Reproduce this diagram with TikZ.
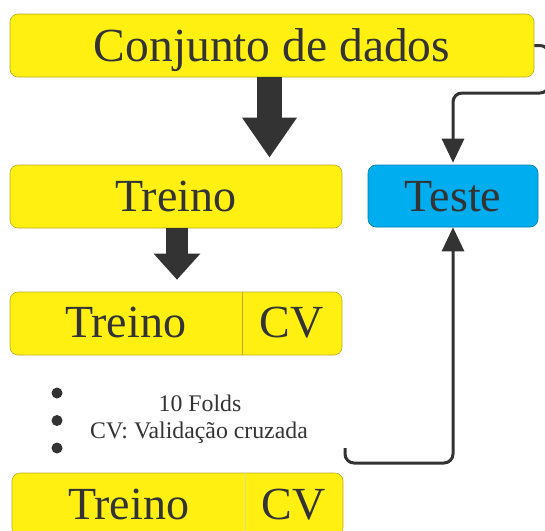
\documentclass[tikz,border=0pt]{standalone}
\usepackage{fontspec}
\setmainfont{Liberation Serif}
\newfontfamily\diagserif{Liberation Serif}
\usetikzlibrary{arrows.meta,calc}
\definecolor{boxyellow}{RGB}{255,240,18}
\definecolor{yellowedge}{RGB}{185,170,40}
\definecolor{boxblue}{RGB}{0,174,239}
\definecolor{blueedge}{RGB}{0,125,175}
\definecolor{ink}{RGB}{51,51,51}
\begin{document}
\begin{tikzpicture}[x=1pt,y=-1pt,
  ybox/.style={draw=yellowedge, line width=0.6pt, fill=boxyellow, rounded corners=8pt, inner sep=0pt},
  bbox/.style={draw=blueedge, line width=0.6pt, fill=boxblue, rounded corners=8pt, inner sep=0pt},
  bigtext/.style={text=ink, font=\diagserif\fontsize{46}{50}\selectfont, text height=30pt, text depth=0pt, inner sep=0pt},
  note/.style={text=ink, font=\diagserif\fontsize{23.8}{26}\selectfont, text height=16pt, text depth=0pt, inner sep=0pt},
  divider/.style={draw=yellowedge, line width=0.6pt},
  blockarrow/.style={draw=ink},
  conn/.style={draw=ink, line width=3pt, rounded corners=9pt, -{Triangle[width=22pt,length=24pt]}},
  dotmark/.style={circle, fill=ink, inner sep=0pt, minimum size=11pt}
]
\useasboundingbox (0,0) rectangle (545,530);

% boxes
\node[ybox, bigtext, font=\diagserif\fontsize{47.5}{52}\selectfont, text height=31pt, minimum width=524pt, minimum height=63pt] (cd) at (272,45.5) {Conjunto de dados};
\node[ybox, bigtext, minimum width=332pt, minimum height=63pt] (tr) at (176,196.5) {Treino};
\node[bbox, bigtext, minimum width=170pt, minimum height=62pt] (te) at (453,196) {Teste};

\node[ybox, minimum width=332pt, minimum height=63pt] (f1) at (176,323.5) {};
\draw[divider] ($(f1.north west)+(233,0)$) -- ($(f1.south west)+(233,0)$);
\node[bigtext] (f1t) at (125.5,322.5) {Treino};
\node[bigtext] (f1c) at (291.5,322.5) {CV};

\node[ybox, minimum width=331pt, minimum height=63pt] (f2) at (177.5,504.5) {};
\draw[divider, draw=yellowedge!45] ($(f2.north west)+(234,0)$) -- ($(f2.south west)+(234,0)$);
\node[bigtext] (f2t) at (128.5,504) {Treino};
\node[bigtext] (f2c) at (293.5,504) {CV};

% dots and notes
\node[dotmark] (d1) at (57,393) {};
\node[dotmark] (d2) at (57,420.5) {};
\node[dotmark] (d3) at (57,448) {};
\node[note] (n1) at (200,403.5) {10 Folds};
\node[note] (n2) at (199,430.5) {CV: Validação cruzada};

% block arrows
\draw[blockarrow, line width=25pt, -{Triangle[width=52pt,length=40pt]}, shorten >=7pt]
  ($(cd.south)+(-2.5,0)$) -- ($(tr.north)+(93.5,0)$);
\draw[blockarrow, line width=22pt, -{Triangle[width=45pt,length=26pt]}, shorten >=12pt]
  ($(tr.south)+(1,0)$) -- ($(f1.north)+(1,0)$);

% connectors
\coordinate (r1) at (549,93);
\draw[conn, shorten >=2pt] (cd.east) -| (r1) -| (te.north);
\coordinate (s1) at (345,448);
\coordinate (s2) at (0,463);
\draw[conn] (s1) |- (te.south |- s2) -- (te.south);
\end{tikzpicture}
\end{document}
